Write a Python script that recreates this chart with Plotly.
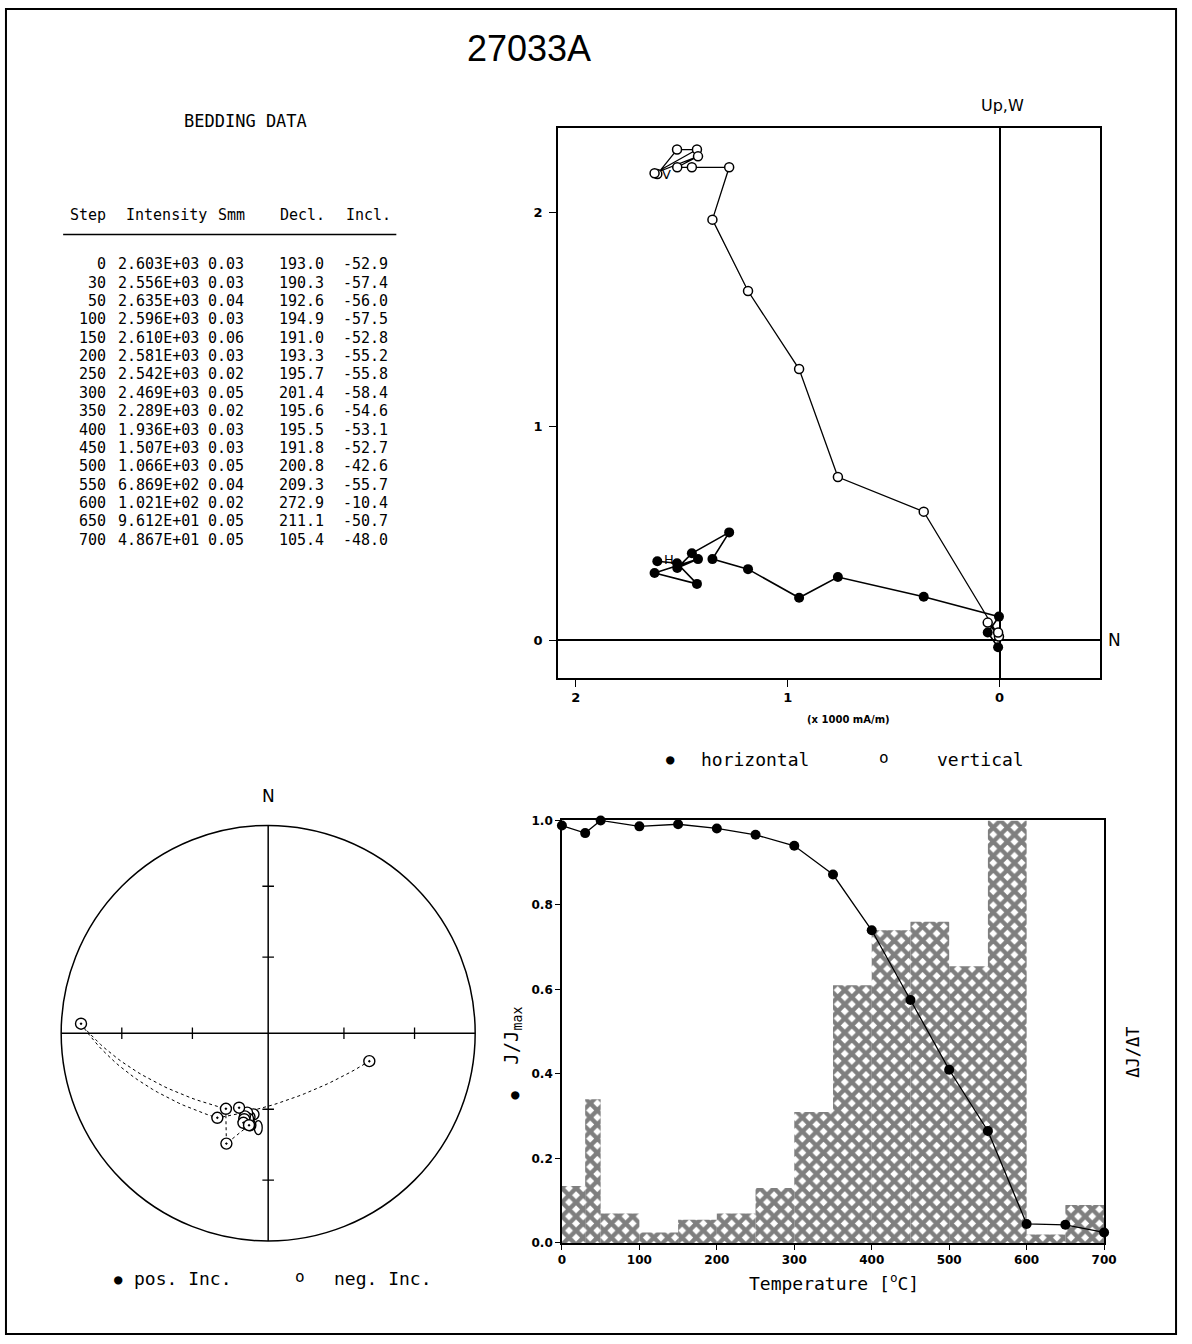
import numpy as np
import plotly.graph_objects as go

W, H = 1192, 1344


def px(x):
    return x / W


def py(y):
    return 1 - y / H


# ---------------- measurement table (bedding coordinates) ----------------
steps = [0, 30, 50, 100, 150, 200, 250, 300, 350, 400, 450, 500, 550, 600, 650, 700]
intensity = [2.603e3, 2.556e3, 2.635e3, 2.596e3, 2.610e3, 2.581e3, 2.542e3, 2.469e3,
             2.289e3, 1.936e3, 1.507e3, 1.066e3, 6.869e2, 1.021e2, 9.612e1, 4.867e1]
smm = [0.03, 0.03, 0.04, 0.03, 0.06, 0.03, 0.02, 0.05, 0.02, 0.03, 0.03, 0.05, 0.04, 0.02, 0.05, 0.05]
decl = [193.0, 190.3, 192.6, 194.9, 191.0, 193.3, 195.7, 201.4, 195.6, 195.5, 191.8, 200.8,
        209.3, 272.9, 211.1, 105.4]
incl = [-52.9, -57.4, -56.0, -57.5, -52.8, -55.2, -55.8, -58.4, -54.6, -53.1, -52.7, -42.6,
        -55.7, -10.4, -50.7, -48.0]

# ---------------- orthogonal projection (x 1000 mA/m) ----------------
zij_south = [1.615, 1.522, 1.428, 1.628, 1.423, 1.521, 1.452, 1.276, 1.355, 1.187, 0.946,
             0.763, 0.358, 0.003, 0.056, 0.007]
zij_west = [0.370, 0.361, 0.264, 0.315, 0.380, 0.338, 0.407, 0.505, 0.380, 0.333, 0.199,
            0.296, 0.204, 0.111, 0.037, -0.032]
zij_up = [2.181, 2.296, 2.296, 2.185, 2.264, 2.213, 2.213, 2.213, 1.968, 1.634, 1.269,
          0.764, 0.602, 0.018, 0.083, 0.037]

# ---------------- normalised intensity and decay rate ----------------
j_norm = [0.988, 0.970, 1.000, 0.986, 0.991, 0.981, 0.966, 0.940, 0.872, 0.740, 0.575,
          0.410, 0.265, 0.045, 0.043, 0.025]
dj_edges = [0, 30, 50, 100, 150, 200, 250, 300, 350, 400, 450, 500, 550, 600, 650, 700]
dj_rate = [0.135, 0.34, 0.07, 0.025, 0.055, 0.07, 0.13, 0.31, 0.61, 0.74, 0.76, 0.655,
           1.0, 0.02, 0.09]

# ---------------- mean direction confidence ellipse (stereonet units) ----------------
mean_dec, mean_inc = 186.0, -52.3
ell_half_ew, ell_half_ns = 0.019, 0.034

MONO = "DejaVu Sans Mono"
SANS = "DejaVu Sans"


def eq_area(dec, inc):
    d = np.radians(np.asarray(dec, dtype=float))
    i = np.radians(np.abs(np.asarray(inc, dtype=float)))
    r = np.sqrt(2) * np.sin((np.pi / 2 - i) / 2)
    return r * np.sin(d), r * np.cos(d)


def unit_vec(dec, inc):
    d, i = np.radians(dec), np.radians(inc)
    return np.array([np.cos(i) * np.cos(d), np.cos(i) * np.sin(d), np.sin(i)])


def great_circle(dec1, inc1, dec2, inc2, n=30):
    a, b = unit_vec(dec1, inc1), unit_vec(dec2, inc2)
    om = np.arccos(np.clip(np.dot(a, b), -1, 1))
    if om < 1e-9:
        pts = np.array([a, b])
    else:
        t = np.linspace(0, 1, n)[:, None]
        pts = (np.sin((1 - t) * om) * a + np.sin(t * om) * b) / np.sin(om)
    dd = np.degrees(np.arctan2(pts[:, 1], pts[:, 0]))
    ii = np.degrees(np.arcsin(np.clip(pts[:, 2] / np.linalg.norm(pts, axis=1), -1, 1)))
    return eq_area(dd, ii)


fig = go.Figure()

# orthogonal vector plot
fig.add_trace(go.Scatter(
    x=zij_south, y=zij_west, mode="lines+markers", xaxis="x", yaxis="y",
    line=dict(color="black", width=1.6),
    marker=dict(symbol="circle", size=10, color="black"),
    cliponaxis=False, showlegend=False))
fig.add_trace(go.Scatter(
    x=zij_south, y=zij_up, mode="lines+markers", xaxis="x", yaxis="y",
    line=dict(color="black", width=1.3),
    marker=dict(symbol="circle", size=9, color="white", line=dict(color="black", width=1.5)),
    cliponaxis=False, showlegend=False))

# decay-rate histogram
centers = [(a + b) / 2 for a, b in zip(dj_edges[:-1], dj_edges[1:])]
widths = [b - a for a, b in zip(dj_edges[:-1], dj_edges[1:])]
fig.add_trace(go.Bar(
    x=centers, y=dj_rate, width=widths, xaxis="x2", yaxis="y2",
    marker=dict(color="white", line=dict(width=0),
                pattern=dict(shape="x", fgcolor="black", bgcolor="white", size=10, solidity=0.68)),
    showlegend=False))
fig.add_trace(go.Scatter(
    x=steps, y=j_norm, mode="lines+markers", xaxis="x2", yaxis="y2",
    line=dict(color="black", width=1.3),
    marker=dict(symbol="circle", size=10, color="black"),
    cliponaxis=False, showlegend=False))

# stereonet: great-circle path and directions
gx, gy = [], []
for k in range(len(decl) - 1):
    ax_, ay_ = great_circle(decl[k], incl[k], decl[k + 1], incl[k + 1])
    gx.extend(ax_.tolist())
    gy.extend(ay_.tolist())
fig.add_trace(go.Scatter(
    x=gx, y=gy, mode="lines", xaxis="x3", yaxis="y3",
    line=dict(color="black", width=1, dash="dot"), showlegend=False))
sx, sy = eq_area(decl, incl)
fig.add_trace(go.Scatter(
    x=sx, y=sy, mode="markers", xaxis="x3", yaxis="y3",
    marker=dict(symbol="circle-dot", size=11, color="white", line=dict(color="black", width=1.4)),
    showlegend=False))

# ---------------- shapes ----------------
shapes = [
    dict(type="rect", xref="paper", yref="paper", x0=px(2), x1=px(1189), y0=py(1341), y1=py(2),
         line=dict(color="black", width=2)),
    dict(type="line", xref="paper", yref="paper", x0=px(60), x1=px(398), y0=py(230), y1=py(230),
         line=dict(color="black", width=1.5)),
    dict(type="circle", xref="x3", yref="y3", x0=-1, x1=1, y0=-1, y1=1,
         line=dict(color="black", width=1.5)),
    dict(type="line", xref="x3", yref="y3", x0=-1, x1=1, y0=0, y1=0,
         line=dict(color="black", width=1.5)),
    dict(type="line", xref="x3", yref="y3", x0=0, x1=0, y0=-1, y1=1,
         line=dict(color="black", width=1.5)),
]
tick_r = [np.sqrt(2) * np.sin(np.radians((90 - a) / 2)) for a in (60, 30)]
tl = 0.028
for r in tick_r:
    for s in (-1, 1):
        shapes.append(dict(type="line", xref="x3", yref="y3", x0=s * r, x1=s * r, y0=-tl, y1=tl,
                           line=dict(color="black", width=1.3)))
        shapes.append(dict(type="line", xref="x3", yref="y3", x0=-tl, x1=tl, y0=s * r, y1=s * r,
                           line=dict(color="black", width=1.3)))
mx, my = eq_area([mean_dec], [mean_inc])
shapes.append(dict(type="circle", xref="x3", yref="y3",
                   x0=mx[0] - ell_half_ew, x1=mx[0] + ell_half_ew,
                   y0=my[0] - ell_half_ns, y1=my[0] + ell_half_ns,
                   line=dict(color="black", width=1.3)))

# ---------------- text ----------------
ann = []


def note(text, x, y, size, family=MONO, xanchor="center", yanchor="middle", angle=0, weight="normal"):
    ann.append(dict(text=text, x=px(x), y=py(y), xref="paper", yref="paper", showarrow=False,
                    xanchor=xanchor, yanchor=yanchor, textangle=angle,
                    font=dict(family=family, size=size, color="black", weight=weight)))


note("27033A", 533, 42, 36, family="Liberation Sans", weight=300)
note("BEDDING DATA", 245, 115, 17)

# table header and rows
for label, x in (("Step", 65), ("Intensity", 122), ("Smm", 215), ("Decl.", 278), ("Incl.", 345)):
    note(label, x, 210, 15, xanchor="left")
for k in range(len(steps)):
    yy = 260 + k * 18.55
    note(str(steps[k]), 106, yy, 15, xanchor="right")
    note("%.3E" % intensity[k], 200, yy, 15, xanchor="right")
    note("%.2f" % smm[k], 246, yy, 15, xanchor="right")
    note("%.1f" % decl[k], 327, yy, 15, xanchor="right")
    note("%.1f" % incl[k], 392, yy, 15, xanchor="right")

# orthogonal plot labels
note("Up,W", 1013, 100, 16, family=SANS)
note("N", 1127, 640, 17, family=SANS)
note("V", 672, 169, 13, family=SANS)
note("H", 675, 558, 13, family=SANS)
note("(x 1000 mA/m)", 857, 720, 10, family=SANS, weight="bold")
note("\u25cf", 676, 760, 14)
note("horizontal", 705, 760, 18, xanchor="left")
note("o", 893, 758, 16)
note("vertical", 944, 760, 18, xanchor="left")

# stereonet labels
note("N", 268, 797, 17, family=SANS)
note("\u25cf", 116, 1285, 14)
note("pos. Inc.", 130, 1285, 18, xanchor="left")
note("o", 300, 1283, 16)
note("neg. Inc.", 333, 1285, 18, xanchor="left")

# demagnetisation plot labels
note("J/J<sub>max</sub>", 516, 1040, 19, angle=-90)
note("\u25cf", 519, 1098, 14)
note("\u0394J/\u0394T", 1145, 1056, 17, angle=-90)
note("Temperature [<sup>o</sup>C]", 842, 1288, 18)

tickfont = dict(family=SANS, size=12, color="black", weight="bold")
axis_common = dict(showgrid=False, showline=True, mirror=True, linecolor="black", linewidth=1.5,
                   ticks="outside", tickcolor="black")

fig.update_layout(
    width=W, height=H, margin=dict(l=0, r=0, t=0, b=0),
    paper_bgcolor="white", plot_bgcolor="white", showlegend=False,
    xaxis=dict(domain=[px(562), px(1112)], range=[2.0837, -0.4744], tickvals=[2, 1, 0],
               ticklen=7, zeroline=True, zerolinecolor="black", zerolinewidth=1.5,
               tickfont=dict(family=SANS, size=13, color="black", weight="bold"),
               anchor="y", **axis_common),
    yaxis=dict(domain=[py(678), py(122)], range=[-0.1759, 2.398], tickvals=[0, 1, 2],
               ticklen=7, zeroline=True, zerolinecolor="black", zerolinewidth=1.5,
               tickfont=dict(family=SANS, size=13, color="black", weight="bold"),
               anchor="x", ticklabelstandoff=4, **axis_common),
    xaxis2=dict(domain=[px(566), px(1116)], range=[0, 700], tickvals=list(range(0, 701, 100)),
                ticklen=5, zeroline=False, anchor="y2", tickfont=tickfont, **axis_common),
    yaxis2=dict(domain=[py(1249), py(822)], range=[0, 1], tickvals=[0, 0.2, 0.4, 0.6, 0.8, 1.0],
                tickformat=".1f", ticklen=5, zeroline=False, anchor="x2", tickfont=tickfont,
                **axis_common),
    xaxis3=dict(domain=[px(268 - 231), px(268 + 231)], range=[-1.1, 1.1], visible=False, anchor="y3"),
    yaxis3=dict(domain=[py(1037 + 231), py(1037 - 231)], range=[-1.1, 1.1], visible=False, anchor="x3"),
    shapes=shapes,
    annotations=ann,
)

fig.write_html("out.html")
